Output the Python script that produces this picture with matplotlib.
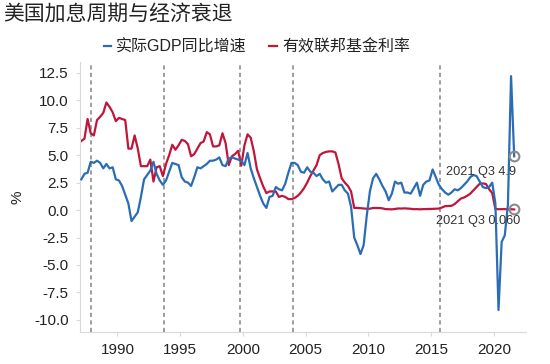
import numpy as np
import matplotlib
matplotlib.use('Agg')
import matplotlib.pyplot as plt

plt.rcParams['font.family'] = ['Liberation Sans', 'Noto Sans CJK SC']
plt.rcParams['axes.unicode_minus'] = False

# 季度数据, 1987Q1 - 2021Q3
gdp_yoy = [
    2.8, 3.3, 3.4, 4.4,
    4.3, 4.5, 4.3, 3.8,
    4.2, 3.8, 3.9, 2.8,
    2.7, 2.2, 1.4, 0.6,
    -1.0, -0.6, -0.2, 1.2,
    2.8, 3.2, 3.6, 4.4,
    3.3, 2.7, 2.3, 2.7,
    3.5, 4.3, 4.2, 4.1,
    3.0, 2.6, 2.5, 2.2,
    3.0, 3.9, 3.8, 4.0,
    4.2, 4.5, 4.5, 4.6,
    4.8, 4.1, 4.0, 4.7,
    4.8, 4.7, 4.6, 4.5,
    4.1, 5.2, 3.8, 2.9,
    2.1, 1.3, 0.6, 0.2,
    1.2, 1.3, 2.1, 1.9,
    1.8, 2.4, 3.4, 4.3,
    4.3, 4.1, 3.5, 3.4,
    3.9, 3.5, 3.4, 3.1,
    3.3, 2.8, 2.5, 2.6,
    1.7, 2.0, 2.3, 2.3,
    1.8, 1.5, 0.3, -2.5,
    -3.2, -4.0, -3.2, -0.5,
    1.7, 2.9, 3.3, 2.8,
    2.2, 1.7, 0.9, 1.5,
    2.6, 2.4, 2.5, 1.6,
    1.6, 1.5, 2.0, 2.5,
    1.3, 2.3, 2.6, 2.7,
    3.7, 3.0, 2.3, 1.9,
    1.6, 1.4, 1.6, 1.9,
    1.8, 2.0, 2.3, 2.6,
    3.0, 3.2, 3.1, 2.6,
    2.1, 2.0, 2.1, 2.5,
    0.6, -9.1, -2.9, -2.3,
    0.5, 12.2, 4.9,
]

fed_funds = [
    6.3, 6.5, 8.3, 7.0,
    6.8, 8.2, 8.5, 8.85,
    9.8, 9.4, 8.9, 8.1,
    8.4, 8.3, 8.2, 5.6,
    5.6, 6.8, 5.6, 4.0,
    4.0, 4.0, 4.6, 2.6,
    3.9, 4.0, 3.1, 4.2,
    5.0, 5.95, 5.5, 5.9,
    6.4, 6.3, 6.0, 4.9,
    5.1, 5.6, 6.1, 6.25,
    7.1, 6.9, 5.8, 5.8,
    5.9, 7.0, 6.1, 4.1,
    4.9, 5.1, 5.4, 4.05,
    5.9, 6.9, 6.6, 5.35,
    3.7, 2.9, 2.15, 1.55,
    1.7, 1.7, 1.7, 1.2,
    1.3, 1.2, 1.0, 1.0,
    1.1, 1.3, 1.6, 2.0,
    2.5, 3.1, 3.6, 4.1,
    5.0, 5.2, 5.3, 5.35,
    5.35, 5.25, 4.2, 2.9,
    2.5, 2.2, 1.7, 0.2,
    0.2, 0.18, 0.15, 0.12,
    0.13, 0.19, 0.19, 0.19,
    0.16, 0.09, 0.08, 0.07,
    0.1, 0.15, 0.14, 0.16,
    0.14, 0.12, 0.08, 0.09,
    0.07, 0.09, 0.09, 0.1,
    0.11, 0.13, 0.14, 0.24,
    0.36, 0.37, 0.39, 0.55,
    0.8, 1.05, 1.15, 1.3,
    1.5, 1.8, 2.1, 2.4,
    2.43, 2.38, 1.9, 1.55,
    0.1, 0.08, 0.09, 0.09,
    0.07, 0.08, 0.06,
]

hike_starts = [1987.92, 1993.75, 1999.75, 2003.96, 2015.75]
x_ticks = [1990, 1995, 2000, 2005, 2010, 2015, 2020]
y_ticks = [-10.0, -7.5, -5.0, -2.5, 0.0, 2.5, 5.0, 7.5, 10.0, 12.5]

blue = '#2a6db5'
red = '#c0163c'

# 季度中点
x = 1987 + (np.arange(len(gdp_yoy)) * 3 + 1.5) / 12

fig = plt.figure(figsize=(5.5, 3.64), dpi=100)
ax = fig.add_axes([0.145, 0.088, 0.811, 0.742])

for d in hike_starts:
    ax.axvline(d, color='#8c8c8c', lw=1.2, ls=(0, (2.5, 2)), zorder=1)

ax.plot(x, gdp_yoy, color=blue, lw=1.6, label='实际GDP同比增速', zorder=3)
ax.plot(x, fed_funds, color=red, lw=1.6, label='有效联邦基金利率', zorder=2)

for vals, off in [(gdp_yoy, (1, -11)), (fed_funds, (4.3, -8.4))]:
    ax.plot(x[-1], vals[-1], 'o', mfc='none', mec='#8a8a8a', ms=7, mew=1.5, zorder=4)
txt_g = '2021 Q3 %s' % gdp_yoy[-1]
txt_f = '2021 Q3 %.3f' % fed_funds[-1]
ax.annotate(txt_g, (x[-1], gdp_yoy[-1]), xytext=(1, -11), textcoords='offset points',
            ha='right', va='center', fontsize=9.2, color='#333333')
ax.annotate(txt_f, (x[-1], fed_funds[-1]), xytext=(4.3, -8.4), textcoords='offset points',
            ha='right', va='center', fontsize=9.2, color='#333333')

ax.set_xlim(1987.0, 2022.55)
ax.set_ylim(-11.1, 13.5)
ax.set_xticks(x_ticks)
ax.set_yticks(y_ticks)
ax.set_yticklabels(['%.1f' % v for v in y_ticks])

for s in ['top', 'right']:
    ax.spines[s].set_visible(False)
for s in ['left', 'bottom']:
    ax.spines[s].set_color('#d9d9d9')
    ax.spines[s].set_linewidth(0.8)
ax.tick_params(axis='both', color='#d9d9d9', length=3, width=0.8,
               labelsize=11, labelcolor='#222222', pad=5)

ax.set_ylabel('%', fontsize=11, color='#222222', labelpad=7)

fig.text(0.006, 0.962, '美国加息周期与经济衰退', fontsize=15, ha='left', va='center',
         color='#222222', family=['Noto Sans CJK SC'])

fig.legend(loc='center', bbox_to_anchor=(0.467, 0.872), ncol=2, frameon=False,
           fontsize=11.5, handlelength=0.45, handletextpad=0.35, columnspacing=1.4,
           labelcolor='#222222')

fig.savefig('out.png', dpi=100)
